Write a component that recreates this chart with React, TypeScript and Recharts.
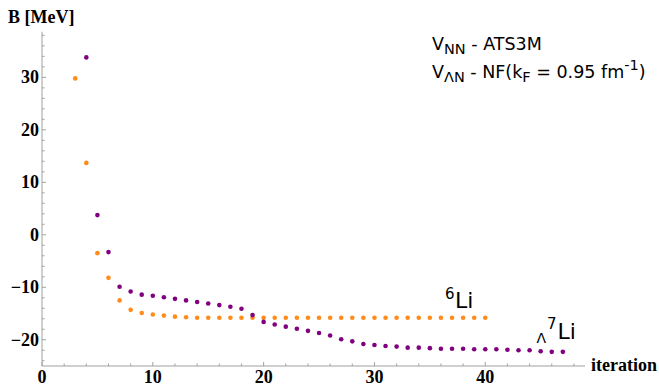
import React from 'react';
import { ScatterChart, Scatter, XAxis, YAxis } from 'recharts';

// iteration -> binding energy B [MeV]
const li6Iter = [3, 4, 5, 6, 7, 8, 9, 10, 11, 12, 13, 14, 15, 16, 17, 18, 19, 20, 21, 22, 23, 24, 25, 26, 27, 28, 29, 30, 31, 32, 33, 34, 35, 36, 37, 38, 39, 40];
const li6B = [29.8, 13.7, -3.5, -8.2, -12.5, -14.3, -14.9, -15.2, -15.4, -15.6, -15.7, -15.8, -15.8, -15.8, -15.8, -15.8, -15.8, -15.8, -15.8, -15.8, -15.8, -15.8, -15.8, -15.8, -15.8, -15.8, -15.8, -15.8, -15.8, -15.8, -15.8, -15.8, -15.8, -15.8, -15.8, -15.8, -15.8, -15.8];

const hyperIter = [4, 5, 6, 7, 8, 9, 10, 11, 12, 13, 14, 15, 16, 17, 18, 19, 20, 21, 22, 23, 24, 25, 26, 27, 28, 29, 30, 31, 32, 33, 34, 35, 36, 37, 38, 39, 40, 41, 42, 43, 44, 45, 46, 47];
const hyperB = [33.8, 3.75, -3.3, -9.9, -10.8, -11.4, -11.6, -11.9, -12.2, -12.5, -12.8, -13.1, -13.4, -13.7, -14.1, -15.3, -16.6, -17.1, -17.5, -17.9, -18.3, -18.7, -19.2, -19.9, -20.3, -20.8, -21.0, -21.2, -21.3, -21.5, -21.5, -21.6, -21.7, -21.7, -21.7, -21.8, -21.8, -21.8, -21.9, -22.0, -22.0, -22.2, -22.3, -22.3];

const xTicks = [0, 2, 4, 6, 8, 10, 12, 14, 16, 18, 20, 22, 24, 26, 28, 30, 32, 34, 36, 38, 40, 42, 44, 46, 48];
const yTicks = [-24, -22, -20, -18, -16, -14, -12, -10, -8, -6, -4, -2, 0, 2, 4, 6, 8, 10, 12, 14, 16, 18, 20, 22, 24, 26, 28, 30, 32, 34, 36, 38];

const li6 = li6Iter.map((x, i) => ({ x, y: li6B[i] }));
const hyper = hyperIter.map((x, i) => ({ x, y: hyperB[i] }));

const ORANGE = '#ff8c1a';
const PURPLE = '#800080';
const AXIS = '#a0a0a0';
const SERIF = '"Liberation Serif", "Times New Roman", serif';
const SANS = '"DejaVu Sans", sans-serif';

const fmt = (v: number) => (v < 0 ? '\u2212' + Math.abs(v) : String(v));

const XTick = (props: any) => {
  const { x, y, payload } = props;
  const major = payload.value % 10 === 0;
  return (
    <g>
      <line x1={x} x2={x} y1={y} y2={y - (major ? 4 : 2.5)} stroke={AXIS} />
      {major && (
        <text x={x} y={y + 16.5} textAnchor="middle" fontFamily={SERIF} fontWeight="bold" fontSize={18} fill="#000">
          {fmt(payload.value)}
        </text>
      )}
    </g>
  );
};

const YTick = (props: any) => {
  const { x, y, payload } = props;
  const major = payload.value % 10 === 0;
  return (
    <g>
      <line x1={x} x2={x + (major ? 4 : 2.5)} y1={y} y2={y} stroke={AXIS} />
      {major && (
        <text x={x - 3} y={y + 6} textAnchor="end" fontFamily={SERIF} fontWeight="bold" fontSize={18} fill="#000">
          {fmt(payload.value)}
        </text>
      )}
    </g>
  );
};

const dot = (color: string) => (props: any) => <circle cx={props.cx} cy={props.cy} r={2.3} fill={color} />;

export default function App() {
  return (
    <div style={{ position: 'absolute', left: 0, top: 0, width: 659, height: 384, background: '#fff' }}>
      <ScatterChart width={659} height={384} margin={{ top: 31.7, right: 74, bottom: 0, left: 0 }}>
        <XAxis
          type="number"
          dataKey="x"
          domain={[0, 49]}
          ticks={xTicks}
          height={18}
          allowDataOverflow
          axisLine={{ stroke: AXIS }}
          tickLine={false}
          tickSize={0}
          tickMargin={0}
          tick={XTick}
          interval={0}
        />
        <YAxis
          type="number"
          dataKey="y"
          domain={[-25, 38.7]}
          ticks={yTicks}
          width={42}
          allowDataOverflow
          axisLine={{ stroke: AXIS }}
          tickLine={false}
          tickSize={0}
          tickMargin={0}
          tick={YTick}
          interval={0}
        />
        <Scatter data={li6} fill={ORANGE} shape={dot(ORANGE)} isAnimationActive={false} />
        <Scatter data={hyper} fill={PURPLE} shape={dot(PURPLE)} isAnimationActive={false} />
      </ScatterChart>
      <svg width={659} height={384} style={{ position: 'absolute', left: 0, top: 0, pointerEvents: 'none' }}>
        <text x={8} y={23} fontFamily={SERIF} fontWeight="bold" fontSize={18}>B [MeV]</text>
        <text x={591} y={371} fontFamily={SERIF} fontWeight="bold" fontSize={18}>iteration</text>
        <text x={432} y={50} fontFamily={SANS} fontSize={17.5}>
          V<tspan fontSize={14.5} dy={4}>NN</tspan>
          <tspan dy={-4}> - ATS3M</tspan>
        </text>
        <text x={432} y={78} fontFamily={SANS} fontSize={17.5}>
          V<tspan fontSize={14.5} dy={4}>ΛN</tspan>
          <tspan dy={-4}> - NF(k</tspan>
          <tspan fontSize={14.5} dy={4}>F</tspan>
          <tspan dy={-4}> = 0.95 fm</tspan>
          <tspan fontSize={14.5} dy={-8}>-1</tspan>
          <tspan dy={8}>)</tspan>
        </text>
        <text x={445} y={299} fontFamily={SANS} fontSize={15}>6</text>
        <text x={455} y={308} fontFamily={SANS} fontSize={22}>Li</text>
        <text x={536.5} y={343} fontFamily={SANS} fontSize={14}>Λ</text>
        <text x={547} y={329} fontFamily={SANS} fontSize={15}>7</text>
        <text x={557.5} y={339} fontFamily={SANS} fontSize={22}>Li</text>
      </svg>
    </div>
  );
}
